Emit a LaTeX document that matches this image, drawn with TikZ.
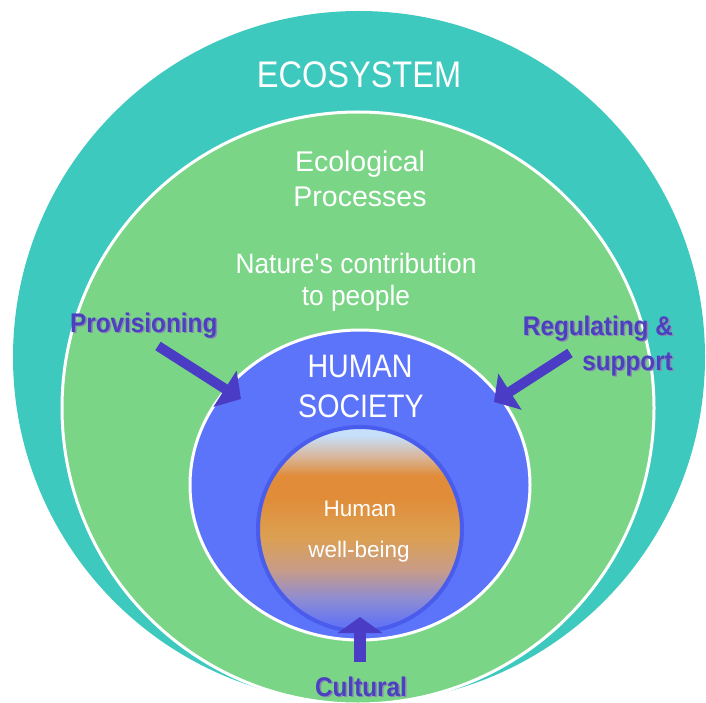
\documentclass[tikz,border=0pt]{standalone}
\usepackage{fontspec}
\setmainfont{Liberation Sans}
\newfontfamily\condfont[FakeStretch=0.88]{Liberation Sans}
\newfontfamily\midfont[FakeStretch=0.94]{Liberation Sans}
\newfontfamily\labelfont[FakeStretch=0.9]{Liberation Sans}
\usetikzlibrary{arrows.meta}
\definecolor{ecoteal}{HTML}{3EC9BE}
\definecolor{procgreen}{HTML}{7BD587}
\definecolor{societyblue}{HTML}{5C74FA}
\definecolor{ringblue}{HTML}{4A5CEB}
\definecolor{arrowblue}{HTML}{4A3CC4}
\definecolor{labelblue}{HTML}{4B40C0}
\definecolor{shadegray}{HTML}{8A8AB0}
\definecolor{wbblue}{HTML}{6676F2}
\definecolor{wbviolet}{HTML}{8E8CD2}
\definecolor{wbtan}{HTML}{C89C88}
\definecolor{wbgold}{HTML}{DCA052}
\definecolor{wborange}{HTML}{E08C38}
\definecolor{wbsand}{HTML}{D8B8A0}
\definecolor{wbsky}{HTML}{C6E0FB}
\pgfdeclareverticalshading{wellbeing}{100bp}{color(0bp)=(wbblue); color(27bp)=(wbblue);
  color(33bp)=(wbviolet); color(40bp)=(wbtan); color(48bp)=(wbgold); color(58bp)=(wborange);
  color(63bp)=(wborange); color(68bp)=(wbsand); color(73bp)=(wbsky); color(100bp)=(wbsky)}
\begin{document}
\begin{tikzpicture}[x=1pt, y=-1pt,
    flow/.style={line width=10pt, arrowblue, -{Triangle[length=19pt,width=42pt]}},
    heading/.style={text=white, anchor=base, inner sep=0pt},
    service/.style={text=labelblue, anchor=base west, inner sep=0pt,
      font=\labelfont\bfseries\fontsize{27}{30}\selectfont},
    serviceshade/.style={service, text=shadegray}]
    \useasboundingbox (0,0) rectangle (706,703);
    \clip (0,0) rectangle (706,703);
    % nested circles
    \fill[ecoteal] (359,357) circle (346);
    \draw[procgreen, fill=procgreen] (358,408) circle (296);
    \draw[white, line width=3pt] (358,408) circle (296);
    \draw[white, line width=3pt, fill=societyblue] (360,485) ellipse [x radius=170, y radius=155];
    \shade[shading=wellbeing] (360,529) circle (102);
    \draw[ringblue, line width=4pt] (360,529) circle (102);
    % texts
    \node[heading, font=\condfont\fontsize{37}{40}\selectfont] (eco) at (359,88) {ECOSYSTEM};
    \node[heading, font=\fontsize{28.5}{32}\selectfont] (proc1) at (360,172) {Ecological};
    \node[heading, font=\fontsize{28.5}{32}\selectfont] (proc2) at (360,207) {Processes};
    \node[heading, font=\midfont\fontsize{28}{32}\selectfont] (ncp1) at (356,273) {Nature\textquotesingle s contribution};
    \node[heading, font=\midfont\fontsize{28}{32}\selectfont] (ncp2) at (356,305) {to people};
    \node[heading, font=\condfont\fontsize{32.5}{36}\selectfont] (hs1) at (360,377) {HUMAN};
    \node[heading, font=\condfont\fontsize{32.5}{36}\selectfont] (hs2) at (361,417) {SOCIETY};
    \node[heading, font=\fontsize{22.5}{26}\selectfont] (hwb1) at (360,516) {Human};
    \node[heading, font=\fontsize{22.5}{26}\selectfont] (hwb2) at (359,557) {well-being};
    % contributions
    \coordinate (provtail) at (158,346);
    \coordinate (provtip) at (241,399);
    \coordinate (regtail) at (570,353);
    \coordinate (regtip) at (494,402);
    \coordinate (culttail) at (360,662);
    \coordinate (culttip) at (360,617);
    \draw[flow] (provtail) -- (provtip);
    \draw[flow] (regtail) -- (regtip);
    \draw[flow, line width=12pt, -{Triangle[length=16pt,width=44pt]}] (culttail) -- (culttip);
    \node[serviceshade] (provsh) at (71.5,333.5) {Provisioning};
    \node[service] (prov) at (70,332) {Provisioning};
    \node[serviceshade, anchor=base east] (regsh1) at (674.5,336.5) {Regulating \&};
    \node[service, anchor=base east] (reg1) at (673,335) {Regulating \&};
    \node[serviceshade, anchor=base east] (regsh2) at (674.5,371.5) {support};
    \node[service, anchor=base east] (reg2) at (673,370) {support};
    \node[serviceshade, anchor=base] (cultsh) at (362.5,697.5) {Cultural};
    \node[service, anchor=base] (cult) at (361,696) {Cultural};
\end{tikzpicture}
\end{document}
